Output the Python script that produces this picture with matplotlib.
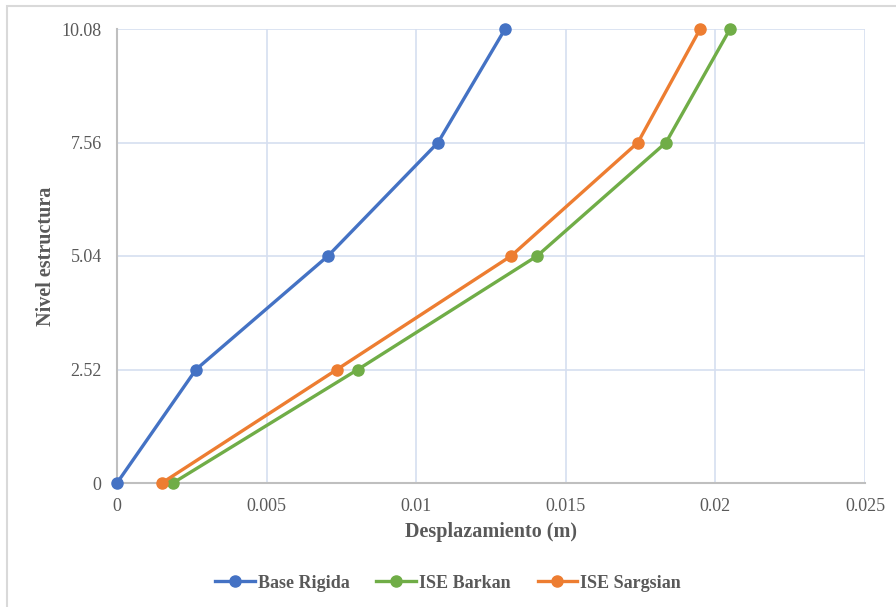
import matplotlib
matplotlib.use("Agg")
import matplotlib.pyplot as plt
from matplotlib.patches import Rectangle

plt.rcParams['font.family'] = ['Liberation Serif', 'DejaVu Serif']

niveles = [0, 2.52, 5.04, 7.56, 10.08]
base_rigida = [0.0, 0.00264, 0.00705, 0.01073, 0.01297]
ise_barkan = [0.00187, 0.00805, 0.01404, 0.01835, 0.02049]
ise_sargsian = [0.0015, 0.00735, 0.01317, 0.01741, 0.01949]

x_ticks = [0, 0.005, 0.01, 0.015, 0.02, 0.025]
x_ticklabels = ['0', '0.005', '0.01', '0.015', '0.02', '0.025']
y_ticklabels = ['0', '2.52', '5.04', '7.56', '10.08']

texto = '#595959'

fig = plt.figure(figsize=(8.96, 6.07), dpi=100)
ax = fig.add_axes([117 / 896, 1 - 483 / 607, (865 - 117) / 896, (483 - 29) / 607])

# marco gris claro alrededor del grafico
fig.patches.append(Rectangle((7 / 896, -0.02), 1.0, 1 - 6 / 607 + 0.02, transform=fig.transFigure,
                             fill=False, edgecolor='#d9d9d9', linewidth=1.5))

ax.plot(base_rigida, niveles, color='#4472c4', lw=2.4, marker='o', ms=8, label='Base Rigida',
        zorder=3, clip_on=False)
ax.plot(ise_barkan, niveles, color='#70ad47', lw=2.4, marker='o', ms=8, label='ISE Barkan',
        zorder=3, clip_on=False)
ax.plot(ise_sargsian, niveles, color='#ed7d31', lw=2.4, marker='o', ms=8, label='ISE Sargsian',
        zorder=3, clip_on=False)

ax.set_xlim(0, 0.025)
ax.set_ylim(0, 10.08)
ax.set_xticks(x_ticks)
ax.set_xticklabels(x_ticklabels)
ax.set_yticks(niveles)
ax.set_yticklabels(y_ticklabels)
ax.grid(True, color='#d6dff0', lw=1.2)
ax.set_axisbelow(True)

for s in ['top', 'right']:
    ax.spines[s].set_visible(False)
for s in ['left', 'bottom']:
    ax.spines[s].set_color('#bfbfbf')
    ax.spines[s].set_linewidth(1.5)

ax.tick_params(length=0, labelsize=13, colors=texto, pad=11)
ax.set_xlabel('Desplazamiento (m)', fontsize=14.5, fontweight='bold', color=texto)
ax.set_ylabel('Nivel estructura', fontsize=14.5, fontweight='bold', color=texto)
ax.xaxis.set_label_coords(0.5, -(532 - 483) / 454, transform=ax.transAxes)
ax.yaxis.set_label_coords(-(117 - 46) / 748, 0.5)
ax.xaxis.label.set_va('center')
ax.yaxis.label.set_va('center')

leg = fig.legend(loc='center', bbox_to_anchor=(0.5, 1 - 583 / 607), ncol=3, frameon=False,
                 prop={'size': 13, 'weight': 'bold'}, handlelength=2.2, columnspacing=1.5,
                 handletextpad=0.15)
for t in leg.get_texts():
    t.set_color(texto)

fig.savefig('out.png', dpi=100)
